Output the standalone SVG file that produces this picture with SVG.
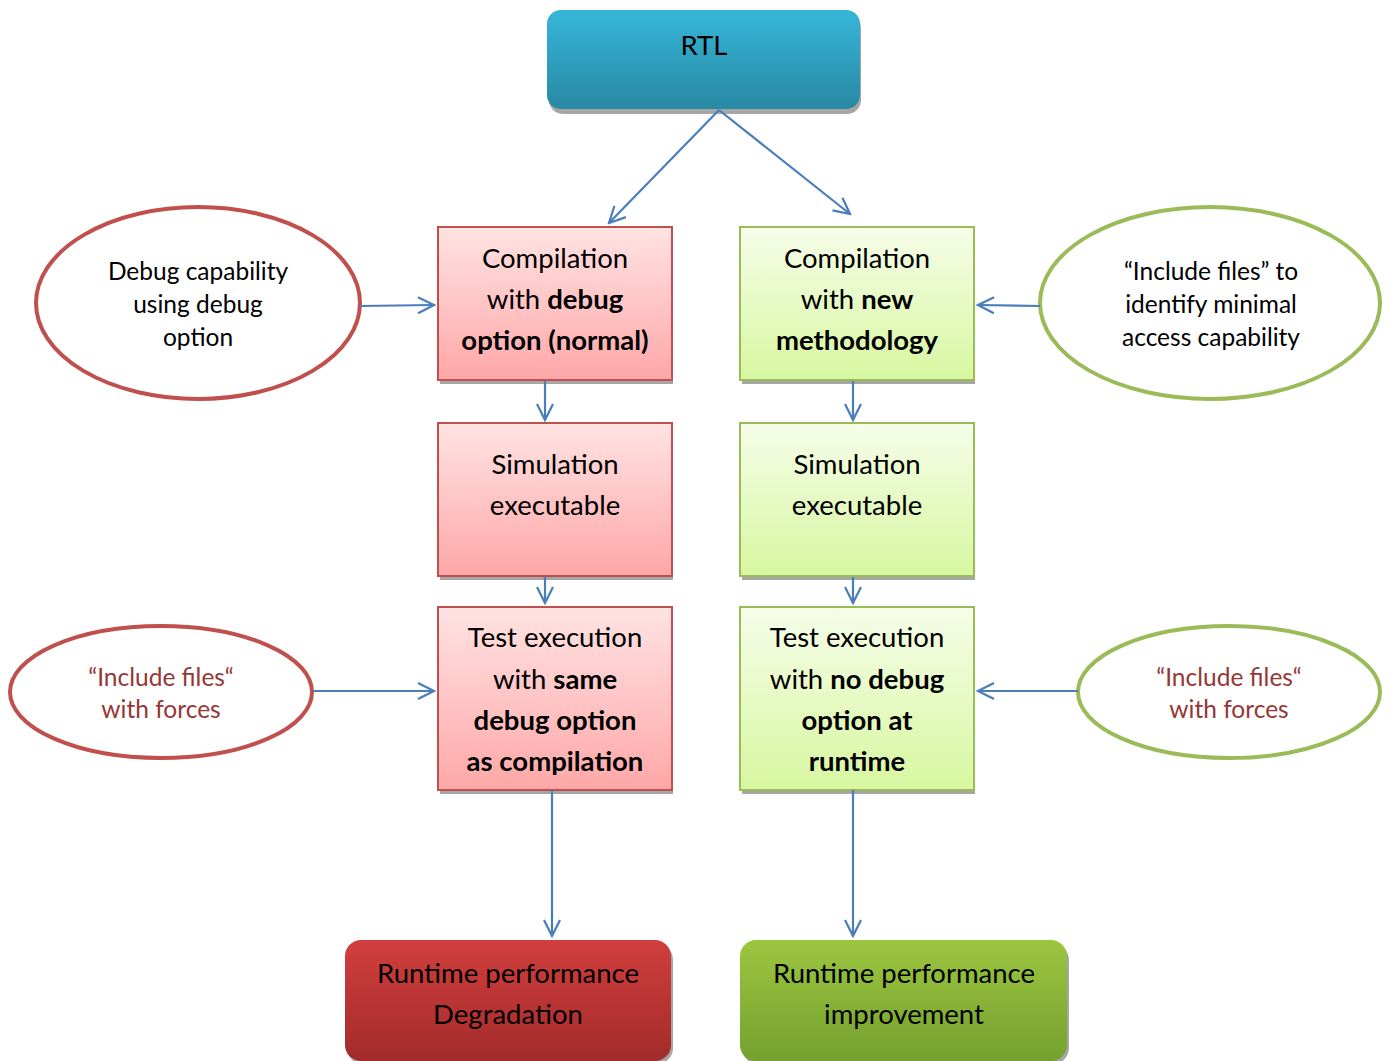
<svg xmlns="http://www.w3.org/2000/svg" width="1388" height="1061" viewBox="0 0 1388 1061">
<style>
text{font-family:Lato,"Open Sans","Liberation Sans",sans-serif;fill:#000;text-anchor:middle}
.t{font-size:27.5px}
.e{font-size:24.5px}
.r{fill:#953735}
.b{font-weight:bold}
.red{fill:url(#gRed);stroke:#c0504d;stroke-width:2}
.grn{fill:url(#gGrn);stroke:#9bbb59;stroke-width:2}
.sh{fill:#a6a6a6}
.ell{fill:#fff;stroke-width:4}
.conn line{stroke:#4a7ebb;stroke-width:2.2;marker-end:url(#arr)}
</style>
<defs>
<linearGradient id="gBlue" x1="0" y1="0" x2="0" y2="1"><stop offset="0" stop-color="#36b6d9"/><stop offset="1" stop-color="#2889a3"/></linearGradient>
<linearGradient id="gRed" x1="0" y1="0" x2="0" y2="1"><stop offset="0" stop-color="#ffe3e3"/><stop offset="1" stop-color="#ffa7a7"/></linearGradient>
<linearGradient id="gGrn" x1="0" y1="0" x2="0" y2="1"><stop offset="0" stop-color="#f6fde9"/><stop offset="1" stop-color="#d7f7a0"/></linearGradient>
<linearGradient id="gDR" x1="0" y1="0" x2="0" y2="1"><stop offset="0" stop-color="#d13f3d"/><stop offset="1" stop-color="#a32b2b"/></linearGradient>
<linearGradient id="gDG" x1="0" y1="0" x2="0" y2="1"><stop offset="0" stop-color="#9cc63f"/><stop offset="1" stop-color="#74a02f"/></linearGradient>
<marker id="arr" viewBox="0 0 20 20" refX="18" refY="10" markerWidth="20" markerHeight="20" markerUnits="userSpaceOnUse" orient="auto"><path d="M2,2 L18,10 L2,18" fill="none" stroke="#4a7ebb" stroke-width="2.2"/></marker>
</defs>

<g id="rtl">
<rect class="sh" x="549" y="14" width="312" height="100" rx="14"/>
<rect x="547" y="10" width="313" height="99" rx="14" fill="url(#gBlue)"/>
<text class="t" x="704" y="55">RTL</text>
</g>

<g id="comp-debug">
<rect class="sh" x="440" y="230" width="233" height="154"/>
<rect class="red" x="438" y="227" width="234" height="153"/>
<text class="t" x="555" y="268">Compilation</text>
<text class="t" x="555" y="309">with <tspan class="b">debug</tspan></text>
<text class="t b" x="555" y="350">option (normal)</text>
</g>

<g id="comp-new">
<rect class="sh" x="742" y="230" width="233" height="154"/>
<rect class="grn" x="740" y="227" width="234" height="153"/>
<text class="t" x="857" y="268">Compilation</text>
<text class="t" x="857" y="309">with <tspan class="b">new</tspan></text>
<text class="t b" x="857" y="350">methodology</text>
</g>

<g id="sim-red">
<rect class="sh" x="440" y="426" width="233" height="154"/>
<rect class="red" x="438" y="423" width="234" height="153"/>
<text class="t" x="555" y="474">Simulation</text>
<text class="t" x="555" y="515">executable</text>
</g>

<g id="sim-green">
<rect class="sh" x="742" y="426" width="233" height="154"/>
<rect class="grn" x="740" y="423" width="234" height="153"/>
<text class="t" x="857" y="474">Simulation</text>
<text class="t" x="857" y="515">executable</text>
</g>

<g id="test-red">
<rect class="sh" x="440" y="610" width="233" height="184"/>
<rect class="red" x="438" y="607" width="234" height="183"/>
<text class="t" x="555" y="647">Test execution</text>
<text class="t" x="555" y="689">with <tspan class="b">same</tspan></text>
<text class="t b" x="555" y="730">debug option</text>
<text class="t b" x="555" y="771">as compilation</text>
</g>

<g id="test-green">
<rect class="sh" x="742" y="610" width="233" height="184"/>
<rect class="grn" x="740" y="607" width="234" height="183"/>
<text class="t" x="857" y="647">Test execution</text>
<text class="t" x="857" y="689">with <tspan class="b">no debug</tspan></text>
<text class="t b" x="857" y="730">option at</text>
<text class="t b" x="857" y="771">runtime</text>
</g>

<g id="degradation">
<rect class="sh" x="347" y="944" width="326" height="120" rx="16"/>
<rect x="345" y="940" width="326" height="121" rx="16" fill="url(#gDR)"/>
<text class="t" x="508" y="983">Runtime performance</text>
<text class="t" x="508" y="1024">Degradation</text>
</g>

<g id="improvement">
<rect class="sh" x="742" y="944" width="327" height="120" rx="16"/>
<rect x="740" y="940" width="327" height="121" rx="16" fill="url(#gDG)"/>
<text class="t" x="904" y="983">Runtime performance</text>
<text class="t" x="904" y="1024">improvement</text>
</g>

<g id="ell-debug">
<ellipse class="ell" cx="198" cy="303" rx="162" ry="96" stroke="#c0504d"/>
<text class="e" x="198" y="280">Debug capability</text>
<text class="e" x="198" y="313">using debug</text>
<text class="e" x="198" y="346">option</text>
</g>

<g id="ell-include">
<ellipse class="ell" cx="1210" cy="303" rx="170" ry="96" stroke="#9bbb59"/>
<text class="e" x="1211" y="280">“Include files” to</text>
<text class="e" x="1211" y="313">identify minimal</text>
<text class="e" x="1211" y="346">access capability</text>
</g>

<g id="ell-forces-red">
<ellipse class="ell" cx="161" cy="692" rx="151" ry="66" stroke="#c0504d"/>
<text class="e r" x="161" y="686">“Include files“</text>
<text class="e r" x="161" y="718">with forces</text>
</g>

<g id="ell-forces-green">
<ellipse class="ell" cx="1229" cy="692" rx="151" ry="66" stroke="#9bbb59"/>
<text class="e r" x="1229" y="686">“Include files“</text>
<text class="e r" x="1229" y="718">with forces</text>
</g>

<g id="connectors" class="conn">
<line x1="719" y1="110" x2="609" y2="223"/>
<line x1="719" y1="110" x2="850" y2="214"/>
<line x1="360" y1="306" x2="434" y2="305"/>
<line x1="1040" y1="306" x2="978" y2="305"/>
<line x1="313" y1="691" x2="434" y2="691"/>
<line x1="1078" y1="691" x2="978" y2="691"/>
<line x1="545" y1="381" x2="545" y2="420"/>
<line x1="853" y1="381" x2="853" y2="420"/>
<line x1="545" y1="577" x2="545" y2="603"/>
<line x1="853" y1="577" x2="853" y2="603"/>
<line x1="552" y1="790" x2="552" y2="936"/>
<line x1="853" y1="790" x2="853" y2="936"/>
</g>
</svg>
